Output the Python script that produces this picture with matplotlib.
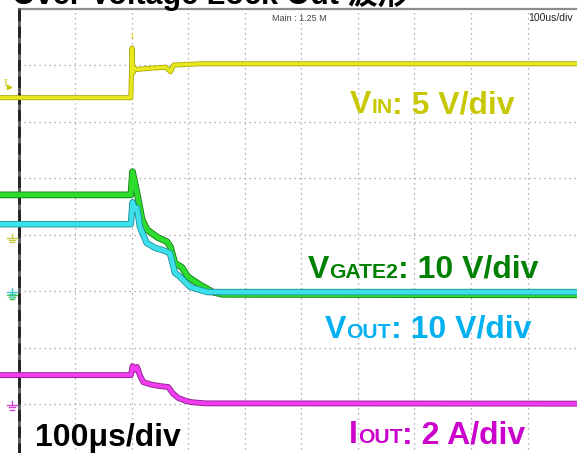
import matplotlib
matplotlib.use('Agg')
import matplotlib.pyplot as plt
import matplotlib.patheffects as pe

# time axis in microseconds, 100 us/div
t_vin = [-40, 198, 200, 202, 205, 210, 230, 260, 268, 274, 280, 320, 1000]
v_vin = [12.4, 12.4, 16.8, 14.6, 15.0, 14.9, 15.0, 15.1, 14.7, 15.3, 15.3, 15.4, 15.4]

t_gate = [-40, 198, 201, 210, 218, 227, 245, 262, 268, 276, 288, 299, 320, 343, 360, 1000]
v_gate = [17.7, 17.7, 21.8, 17.5, 13.3, 11.5, 10.2, 9.4, 8.5, 5.6, 4.9, 3.2, 1.8, 0.5, 0.1, 0.0]

t_vout = [-40, 198, 201, 205, 209, 214, 226, 241, 255, 267, 272, 276, 285, 303, 333, 1000]
v_vout = [12.0, 12.0, 15.9, 14.6, 14.9, 11.5, 8.7, 7.8, 7.4, 6.9, 5.0, 3.4, 2.7, 0.9, 0.0, 0.0]

t_iout = [-40, 198, 201, 205, 209, 214, 220, 235, 250, 264, 273, 282, 295, 306, 330, 1000]
i_iout = [1.06, 1.06, 1.38, 1.25, 1.35, 1.05, 0.81, 0.72, 0.67, 0.64, 0.40, 0.25, 0.15, 0.10, 0.06, 0.05]

# channel settings: ground position (div from bottom), units per div
ch_vin = (3.95, 5.0)
ch_gate = (2.94, 10.0)
ch_vout = (2.99, 10.0)
ch_iout = (0.99, 2.0)

W, H = 577, 453
fig = plt.figure(figsize=(W / 100, H / 100), dpi=100)
ax = fig.add_axes([0, 0, 1, 1])
ax.set_xlim(-33.6, 987.6)
ax.set_ylim(0.1416, 8.159)
ax.axis('off')

# graticule
for k in range(1, 10):
    ax.plot([k * 100, k * 100], [0, 8], color='#9a9a9a', lw=0.9, ls=(0, (1, 3)))
for k in range(1, 8):
    ax.plot([0, 1000], [k, k], color='#9a9a9a', lw=0.9, ls=(0, (1, 3)))
ax.plot([0, 1000], [8, 8], color='#8c8c8c', lw=1.6)
ax.plot([0, 0], [0, 8], color='#555555', lw=2.0)
ax.plot([0, 0], [0, 8], color='#222222', lw=2.0, ls=(0, (4, 2)))


def trace(t, v, ch, color, edge, lw):
    gnd, scale = ch
    y = [gnd + val / scale for val in v]
    ax.plot(t, y, color=color, lw=lw, solid_joinstyle='round',
            path_effects=[pe.Stroke(linewidth=lw + 1.2, foreground=edge), pe.Normal()])


def ground(ch, color):
    gnd = ch[0]
    xc = -12.4
    ax.plot([xc, xc], [gnd, gnd + 0.07], color=color, lw=1)
    for i, hw in enumerate([8.8, 6.0, 3.2]):
        ax.plot([xc - hw, xc + hw], [gnd - i * 0.04] * 2, color=color, lw=1)


trace(t_vin, v_vin, ch_vin, '#e8e820', '#a8a800', 2.4)
trace(t_gate, v_gate, ch_gate, '#2edc2e', '#127a12', 3.6)
trace(t_vout, v_vout, ch_vout, '#3de0ea', '#1a8f9c', 3.4)
trace(t_iout, i_iout, ch_iout, '#ee3cee', '#8e1a8e', 3.0)

ground(ch_vin, '#c8c840')
ground(ch_gate, '#40c040')
ground(ch_vout, '#40c8d0')
ground(ch_iout, '#d040d0')
ax.text(-28, 6.68, 'I', color='#c8c800', fontsize=7, family='DejaVu Serif', va='center')
ax.plot([-18], [6.62], marker='>', ms=3, color='#c8c800')
ax.text(199, 7.53, '1', color='#d8d800', fontsize=5, va='center', ha='center')

renderer = fig.canvas.get_renderer()


def rich_label(x_px, base_px, parts, color, size=23):
    x = x_px
    for s, scale in parts:
        txt = fig.text(x / W, 1 - base_px / H, s, fontsize=size * scale, color=color,
                       fontweight='bold', family='Liberation Sans', va='baseline', ha='left')
        x = txt.get_window_extent(renderer).x1


rich_label(350, 113, [('V', 1), ('IN', 0.66), (': 5 V/div', 1)], '#c8c800')
rich_label(308, 278, [('V', 1), ('GATE2', 0.66), (': 10 V/div', 1)], '#008000')
rich_label(325, 338, [('V', 1), ('OUT', 0.66), (': 10 V/div', 1)], '#00b0f0')
rich_label(349, 443, [('I', 1), ('OUT', 0.66), (': 2 A/div', 1)], '#cc00cc')
rich_label(35, 446, [('100μs/div', 1)], 'black')

fig.text(272 / W, 1 - 21 / H, 'Main : 1.25 M', fontsize=6.5, color='#444444', family='Liberation Sans')
fig.text(528 / W, 1 - 21 / H, '100us/div', fontsize=7.5, color='#222222', family='Liberation Sans')
fig.text(12 / W, 1 - 4 / H, 'Over Voltage Lock Out 波形', fontsize=22, fontweight='bold',
         color='black', family=['Liberation Sans', 'Noto Sans CJK SC'], va='baseline')

fig.savefig('out.png', dpi=100)
plt.close(fig)
